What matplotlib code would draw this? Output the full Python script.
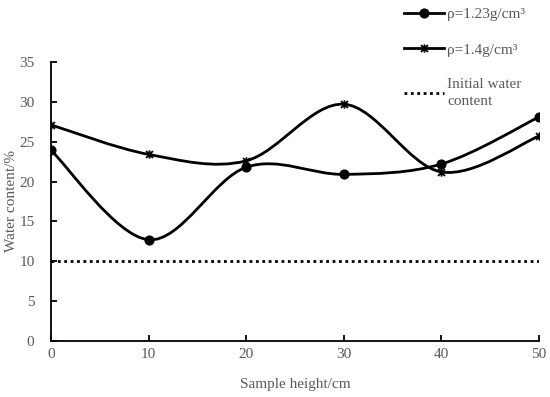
import numpy as np
import matplotlib.pyplot as plt
from matplotlib.path import Path
from matplotlib.patches import PathPatch

# data
height = [0, 10, 20, 30, 40, 50]
w_123 = [23.9, 12.7, 21.8, 20.9, 22.2, 28.1]
w_14 = [27.1, 23.4, 22.6, 29.7, 21.2, 25.7]
w_init = 10

plt.rcParams['font.family'] = ['Liberation Serif', 'DejaVu Serif']
txt = '#595959'


def smooth_path(x, y):
    # Excel-style smoothed line: cubic bezier through the points
    p = np.column_stack([x, y]).astype(float)
    n = len(p)
    verts = [p[0]]
    codes = [Path.MOVETO]
    for i in range(n - 1):
        p0 = p[i - 1] if i > 0 else p[i]
        p3 = p[i + 2] if i + 2 < n else p[i + 1]
        c1 = p[i] + (p[i + 1] - p0) / 6
        c2 = p[i + 1] - (p3 - p[i]) / 6
        verts += [c1, c2, p[i + 1]]
        codes += [Path.CURVE4] * 3
    return Path(verts, codes)


star = Path([(-1, -1), (1, 1), (-1, 1), (1, -1), (0, -1.2), (0, 1.2)],
            [Path.MOVETO, Path.LINETO, Path.MOVETO, Path.LINETO, Path.MOVETO, Path.LINETO])

fig = plt.figure(figsize=(5.5, 3.97), dpi=100)
ax = fig.add_axes([0.093, 0.141, 0.887, 0.703])

for ys, mk, ms, lab in [(w_123, 'o', 6, 'ρ=1.23g/cm³'), (w_14, star, 6, 'ρ=1.4g/cm³')]:
    ax.add_patch(PathPatch(smooth_path(height, ys), fill=False, lw=2, ec='black'))
    ax.plot(height, ys, ls='none', marker=mk, ms=ms, color='black', mew=1.3)
    ax.plot([], [], '-', marker=mk, ms=ms, color='black', lw=2, mew=1.3, label=lab)

ax.plot([0, 50], [w_init, w_init], color='black', lw=2, ls=(0, (1, 1.3)),
        label='Initial water\ncontent')

ax.set_xlim(0, 50)
ax.set_ylim(0, 35)
ax.set_xticks(height)
ax.set_yticks(range(0, 36, 5))
for s in ['top', 'right']:
    ax.spines[s].set_visible(False)
for s in ['left', 'bottom']:
    ax.spines[s].set_linewidth(1.3)
ax.tick_params(direction='in', length=4, width=1.3, labelsize=11, colors=txt)
ax.tick_params(axis='y', pad=12)
ax.tick_params(axis='x', pad=5)
ax.tick_params(color='black')
ax.set_xlabel('Sample height/cm', fontsize=11, color=txt, labelpad=12)
ax.set_ylabel('Water content/%', fontsize=11, color=txt, labelpad=1)

leg = fig.legend(loc='upper left', bbox_to_anchor=(0.71, 1.015), frameon=False,
                 fontsize=11, labelcolor=txt, handlelength=2.6, handletextpad=0.2,
                 labelspacing=1.4)
for t in leg.get_texts():
    t.set_linespacing(1.45)

fig.savefig('out.png', dpi=100)
